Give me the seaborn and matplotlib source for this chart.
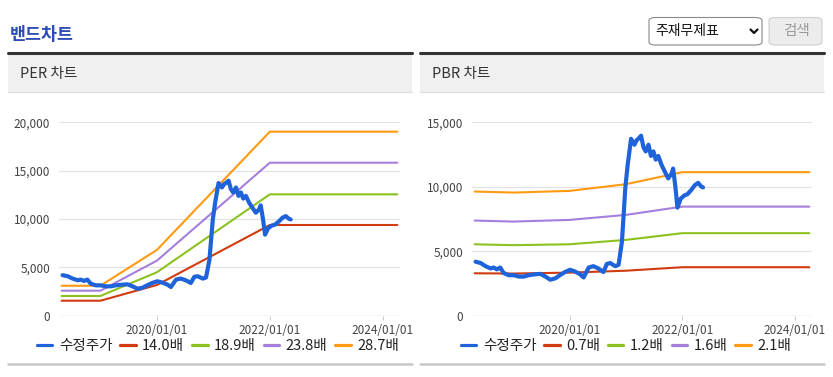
import matplotlib
matplotlib.use("Agg")
import matplotlib.pyplot as plt
import matplotlib.dates as mdates
from matplotlib.patches import Rectangle, FancyBboxPatch
from matplotlib.lines import Line2D
from matplotlib.ticker import FuncFormatter
import pandas as pd
import seaborn as sns

# ---------------- data ----------------
price_dates = ["2018-05-01", "2018-06-03", "2018-07-05", "2018-08-07", "2018-08-27", "2018-09-16",
               "2018-10-08", "2018-10-30", "2018-12-02", "2019-01-04", "2019-02-06", "2019-03-11",
               "2019-04-09", "2019-05-23", "2019-06-25", "2019-07-28", "2019-08-29", "2019-10-01",
               "2019-10-30", "2019-12-02", "2020-01-04", "2020-02-06", "2020-03-10", "2020-04-01",
               "2020-05-04", "2020-06-03", "2020-07-06", "2020-08-08", "2020-08-30", "2020-09-21",
               "2020-10-24", "2020-11-14", "2020-12-06", "2020-12-28", "2021-01-12", "2021-02-03",
               "2021-02-25", "2021-03-11", "2021-03-22", "2021-04-09", "2021-04-24", "2021-05-09",
               "2021-05-27", "2021-06-12", "2021-06-28", "2021-07-13", "2021-07-30", "2021-08-20",
               "2021-09-10", "2021-10-02", "2021-10-23", "2021-11-03", "2021-11-18", "2021-12-01",
               "2021-12-22", "2022-01-14", "2022-02-04", "2022-03-02", "2022-03-23", "2022-04-14",
               "2022-05-05", "2022-05-16"]
price_values = [4190, 4085, 3840, 3665, 3735, 3595, 3735, 3315, 3140, 3140, 3035, 3035,
                3140, 3210, 3245, 3035, 2790, 2900, 3140, 3385, 3560, 3420, 3210, 2965,
                3735, 3840, 3665, 3385, 4015, 4085, 3840, 3945, 5760, 9950, 11690, 13720,
                13260, 13610, 13720, 13960, 13090, 12740, 13260, 12390, 12740, 12110, 12390, 11690,
                11170, 10650, 10990, 11410, 9950, 8380, 9075, 9320, 9425, 9770, 10120, 10300,
                10015, 9950]

per_dates = ["2018-04-25", "2019-01-01", "2020-01-01", "2022-01-01", "2024-04-05"]
per_labels = ["14.0배", "18.9배", "23.8배", "28.7배"]
per_14 = [1550, 1550, 3175, 9380, 9380]
per_189 = [2040, 2040, 4490, 12550, 12550]
per_238 = [2585, 2585, 5690, 15820, 15820]
per_287 = [3100, 3100, 6795, 19030, 19030]

pbr_dates = ["2018-04-25", "2019-01-01", "2020-01-01", "2021-01-01", "2022-01-01", "2024-04-05"]
pbr_labels = ["0.7배", "1.2배", "1.6배", "2.1배"]
pbr_07 = [3290, 3270, 3340, 3490, 3760, 3760]
pbr_12 = [5540, 5470, 5540, 5880, 6400, 6400]
pbr_16 = [7380, 7300, 7430, 7820, 8460, 8460]
pbr_21 = [9630, 9550, 9680, 10200, 11130, 11130]

price_label = "수정주가"
tick_dates = ["2020-01-01", "2022-01-01", "2024-01-01"]
per_yticks = [0, 5000, 10000, 15000, 20000]
pbr_yticks = [0, 5000, 10000, 15000]

# ---------------- style ----------------
BLUE = "#1f63db"
BAND_COLORS = ["#d03b10", "#8cc21f", "#a57fdb", "#ff9a10"]

sns.set_theme(style="white")
plt.rcParams["font.family"] = ["Noto Sans CJK KR", "DejaVu Sans"]

W, H = 833, 377
fig = plt.figure(figsize=(W / 100, H / 100), dpi=100)


def fx(x):
    return x / W


def fy(y):
    return 1 - y / H


def draw_chart(ax, band_dates, bands, labels, yticks, legend_cx):
    pdf = pd.DataFrame({"date": pd.to_datetime(price_dates), "v": price_values})
    sns.lineplot(data=pdf, x="date", y="v", ax=ax, color=BLUE, lw=3.0,
                 label=price_label, zorder=5)
    bd = pd.to_datetime(band_dates)
    for vals, lab, col in zip(bands, labels, BAND_COLORS):
        bdf = pd.DataFrame({"date": bd, "v": vals})
        sns.lineplot(data=bdf, x="date", y="v", ax=ax, color=col, lw=1.5,
                     label=lab, zorder=3)
    ax.set(xlabel="", ylabel="")
    ax.set_ylim(yticks[0], yticks[-1])
    ax.set_xlim(pd.Timestamp("2018-04-08"), pd.Timestamp("2024-04-22"))
    ax.set_yticks(yticks)
    ax.yaxis.set_major_formatter(FuncFormatter(lambda v, p: f"{int(v):,}"))
    ax.set_xticks(pd.to_datetime(tick_dates))
    ax.xaxis.set_major_formatter(mdates.DateFormatter("%Y/%m/%d"))
    for s in ax.spines.values():
        s.set_visible(False)
    ax.yaxis.grid(True, color="#e2e2e2", lw=0.8)
    ax.set_axisbelow(True)
    ax.axhline(yticks[0], color="#c8c8c8", lw=0.9, zorder=1)
    ax.tick_params(axis="y", length=0, pad=6.5, labelsize=8.5, labelcolor="#444444")
    ax.tick_params(axis="x", bottom=True, length=3, width=0.8, color="#cccccc",
                   pad=3, labelsize=8.5, labelcolor="#444444")
    h, l = ax.get_legend_handles_labels()
    leg = ax.legend(h, l, ncol=5, loc="center", bbox_to_anchor=(fx(legend_cx), fy(346)),
                    bbox_transform=fig.transFigure, frameon=False, fontsize=10.5,
                    handlelength=1.05, handletextpad=0.45, columnspacing=0.55,
                    borderaxespad=0, borderpad=0)
    for line in leg.get_lines():
        line.set_linewidth(2.3)
    for t in leg.get_texts():
        t.set_color("#222222")


axL = fig.add_axes([fx(59), fy(315.7), (400 - 59) / W, (315.7 - 122.3) / H])
axR = fig.add_axes([fx(472), fy(315.7), (812 - 472) / W, (315.7 - 122.3) / H])

draw_chart(axL, per_dates, [per_14, per_189, per_238, per_287], per_labels, per_yticks, 218)
draw_chart(axR, pbr_dates, [pbr_07, pbr_12, pbr_16, pbr_21], pbr_labels, pbr_yticks, 626)

# ---------------- page decorations ----------------
fig.text(fx(10), fy(35), "밴드차트", fontsize=12.5, weight="bold", color="#2d4cb4",
         va="center", ha="left")

for x0, x1, title in [(8, 412, "PER 차트"), (420, 824, "PBR 차트")]:
    fig.patches.append(Rectangle((fx(x0), fy(92)), (x1 - x0) / W, (92 - 54) / H,
                                 transform=fig.transFigure, facecolor="#f0f0f0",
                                 edgecolor="none", zorder=0))
    fig.lines.append(Line2D([fx(x0), fx(x1)], [fy(53), fy(53)], transform=fig.transFigure,
                            color="#333333", lw=2.2))
    fig.lines.append(Line2D([fx(x0), fx(x1)], [fy(92), fy(92)], transform=fig.transFigure,
                            color="#dddddd", lw=0.8))
    fig.lines.append(Line2D([fx(x0), fx(x1)], [fy(363.5), fy(363.5)], transform=fig.transFigure,
                            color="#c8c8c8", lw=1.8))
    fig.text(fx(x0 + 12), fy(74), title, fontsize=10.5, color="#333333", va="center", ha="left")

# dropdown
fig.patches.append(FancyBboxPatch((fx(649), fy(45)), (762 - 649) / W, (45 - 17.5) / H,
                                  boxstyle="round,pad=0,rounding_size=0.008",
                                  transform=fig.transFigure, facecolor="white",
                                  edgecolor="#8a8a8a", lw=0.8))
fig.text(fx(655), fy(31.5), "주재무제표", fontsize=10, color="#111111", va="center", ha="left")
fig.lines.append(Line2D([fx(750.5), fx(754), fx(757.5)], [fy(29.5), fy(33), fy(29.5)],
                        transform=fig.transFigure, color="#111111", lw=1.6))
# search button
fig.patches.append(FancyBboxPatch((fx(769), fy(45)), (822 - 769) / W, (45 - 17.5) / H,
                                  boxstyle="round,pad=0,rounding_size=0.008",
                                  transform=fig.transFigure, facecolor="#ececec",
                                  edgecolor="#cfcfcf", lw=0.8))
fig.text(fx(796), fy(31.5), "검색", fontsize=10.5, color="#9a9a9a", va="center", ha="center")

fig.savefig("out.png", dpi=100)
